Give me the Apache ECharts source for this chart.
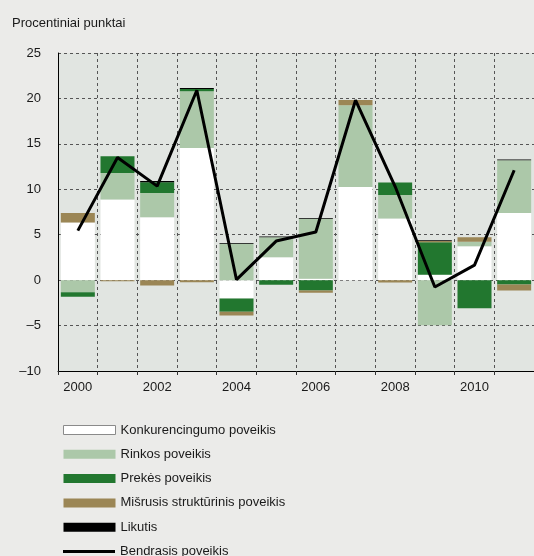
<!DOCTYPE html>
<html>
<head>
<meta charset="utf-8">
<script src="https://cdn.jsdelivr.net/npm/echarts@6/dist/echarts.min.js"></script>
<style>
  html, body { margin: 0; padding: 0; background: #EBEBE9; }
  #chart { width: 534px; height: 556px; }
</style>
</head>
<body>
<div id="chart"></div>
<script>
// metai
const years = ['2000', '2001', '2002', '2003', '2004', '2005', '2006', '2007', '2008', '2009', '2010', '2011'];
// komponentai, procentiniai punktai
const konkurencingumas = [6.35, 8.87, 6.92, 14.55, -2.02, 2.52, 0.15, 10.26, 6.78, 0.6, 3.73, 7.4];
const rinkos = [-1.33, 2.93, 2.68, 6.23, 4.0, 2.2, 6.6, 8.98, 2.6, -4.96, 0.5, 5.8];
const prekes = [-0.5, 1.83, 1.17, 0.27, -1.47, -0.5, -1.14, 0, 1.36, 3.57, -3.1, -0.48];
const misrusis = [1.05, -0.12, -0.6, -0.23, -0.4, 0, -0.25, 0.6, -0.26, 0.15, 0.5, -0.65];
const likutis = [0, 0, 0.15, 0.1, 0.08, 0.08, 0.08, 0, 0, 0.08, 0, 0.08];
const bendrasis = [5.45, 13.5, 10.35, 20.9, 0.05, 4.3, 5.3, 19.8, 10.3, -0.75, 1.65, 12.1];
const yTicks = { min: -10, max: 25, step: 5 };

const font = 'Liberation Sans, Arial, sans-serif';
const txt = '#1a1a1a';

let myChart = echarts.init(document.getElementById('chart'));

function bar(name, data, color) {
  return {
    name: name,
    type: 'bar',
    stack: 'viso',
    barWidth: 34,
    data: data,
    itemStyle: { color: color },
    emphasis: { disabled: true }
  };
}

const legendText = { fontFamily: font, fontSize: 13, color: txt, lineHeight: 14 };

myChart.setOption({
  backgroundColor: '#EBEBE9',
  animation: false,
  textStyle: { fontFamily: font },
  title: {
    text: 'Procentiniai punktai',
    left: 12,
    top: 17,
    padding: 0,
    textStyle: { fontFamily: font, fontSize: 13, fontWeight: 'normal', color: txt }
  },
  grid: {
    left: 58,
    top: 53,
    width: 483,
    height: 318,
    show: true,
    backgroundColor: '#E1E5E1',
    borderWidth: 0
  },
  legend: [
    {
      orient: 'vertical',
      left: 63,
      top: 423,
      padding: 0,
      itemWidth: 52,
      itemHeight: 9,
      itemGap: 10.3,
      itemTextGap: 5,
      selectedMode: false,
      textStyle: legendText,
      data: [
        { name: 'Konkurencingumo poveikis', icon: 'rect', itemStyle: { borderColor: '#8a8a8a', borderWidth: 1 } },
        { name: 'Rinkos poveikis', icon: 'rect' },
        { name: 'Prekės poveikis', icon: 'rect' },
        { name: 'Mišrusis struktūrinis poveikis', icon: 'rect' },
        { name: 'Likutis', icon: 'rect' }
      ]
    },
    {
      orient: 'vertical',
      left: 63,
      top: 544.5,
      padding: 0,
      itemWidth: 52,
      itemHeight: 3,
      itemTextGap: 5,
      selectedMode: false,
      textStyle: legendText,
      data: [{ name: 'Bendrasis poveikis', icon: 'rect', itemStyle: { color: '#000' } }]
    }
  ],
  xAxis: {
    type: 'category',
    data: years,
    axisLine: { onZero: false, lineStyle: { color: '#000', width: 1 } },
    axisTick: { show: true, interval: 0, length: 4, lineStyle: { color: '#333' } },
    axisLabel: { interval: 1, margin: 10, fontSize: 13, color: txt, fontFamily: font },
    splitLine: { show: true, interval: 0, lineStyle: { color: '#555', type: [3, 3], width: 1 } }
  },
  yAxis: {
    type: 'value',
    min: yTicks.min,
    max: yTicks.max,
    interval: yTicks.step,
    axisLine: { show: true, lineStyle: { color: '#000', width: 1 } },
    axisTick: { show: false },
    axisLabel: {
      margin: 17,
      fontSize: 13,
      color: txt,
      fontFamily: font,
      formatter: function (v) { return String(v).replace('-', '\u2013'); }
    },
    splitLine: { show: true, lineStyle: { color: '#555', type: [3, 3], width: 1 } }
  },
  series: [
    bar('Konkurencingumo poveikis', konkurencingumas, '#FFFFFF'),
    bar('Rinkos poveikis', rinkos, '#ACC8A9'),
    bar('Prekės poveikis', prekes, '#22772F'),
    bar('Mišrusis struktūrinis poveikis', misrusis, '#9B8655'),
    bar('Likutis', likutis, '#000000'),
    {
      name: 'Bendrasis poveikis',
      type: 'line',
      data: bendrasis,
      symbol: 'none',
      showSymbol: false,
      z: 5,
      lineStyle: { color: '#000', width: 3 },
      itemStyle: { color: '#000' },
      emphasis: { disabled: true }
    }
  ]
});
</script>
</body>
</html>
